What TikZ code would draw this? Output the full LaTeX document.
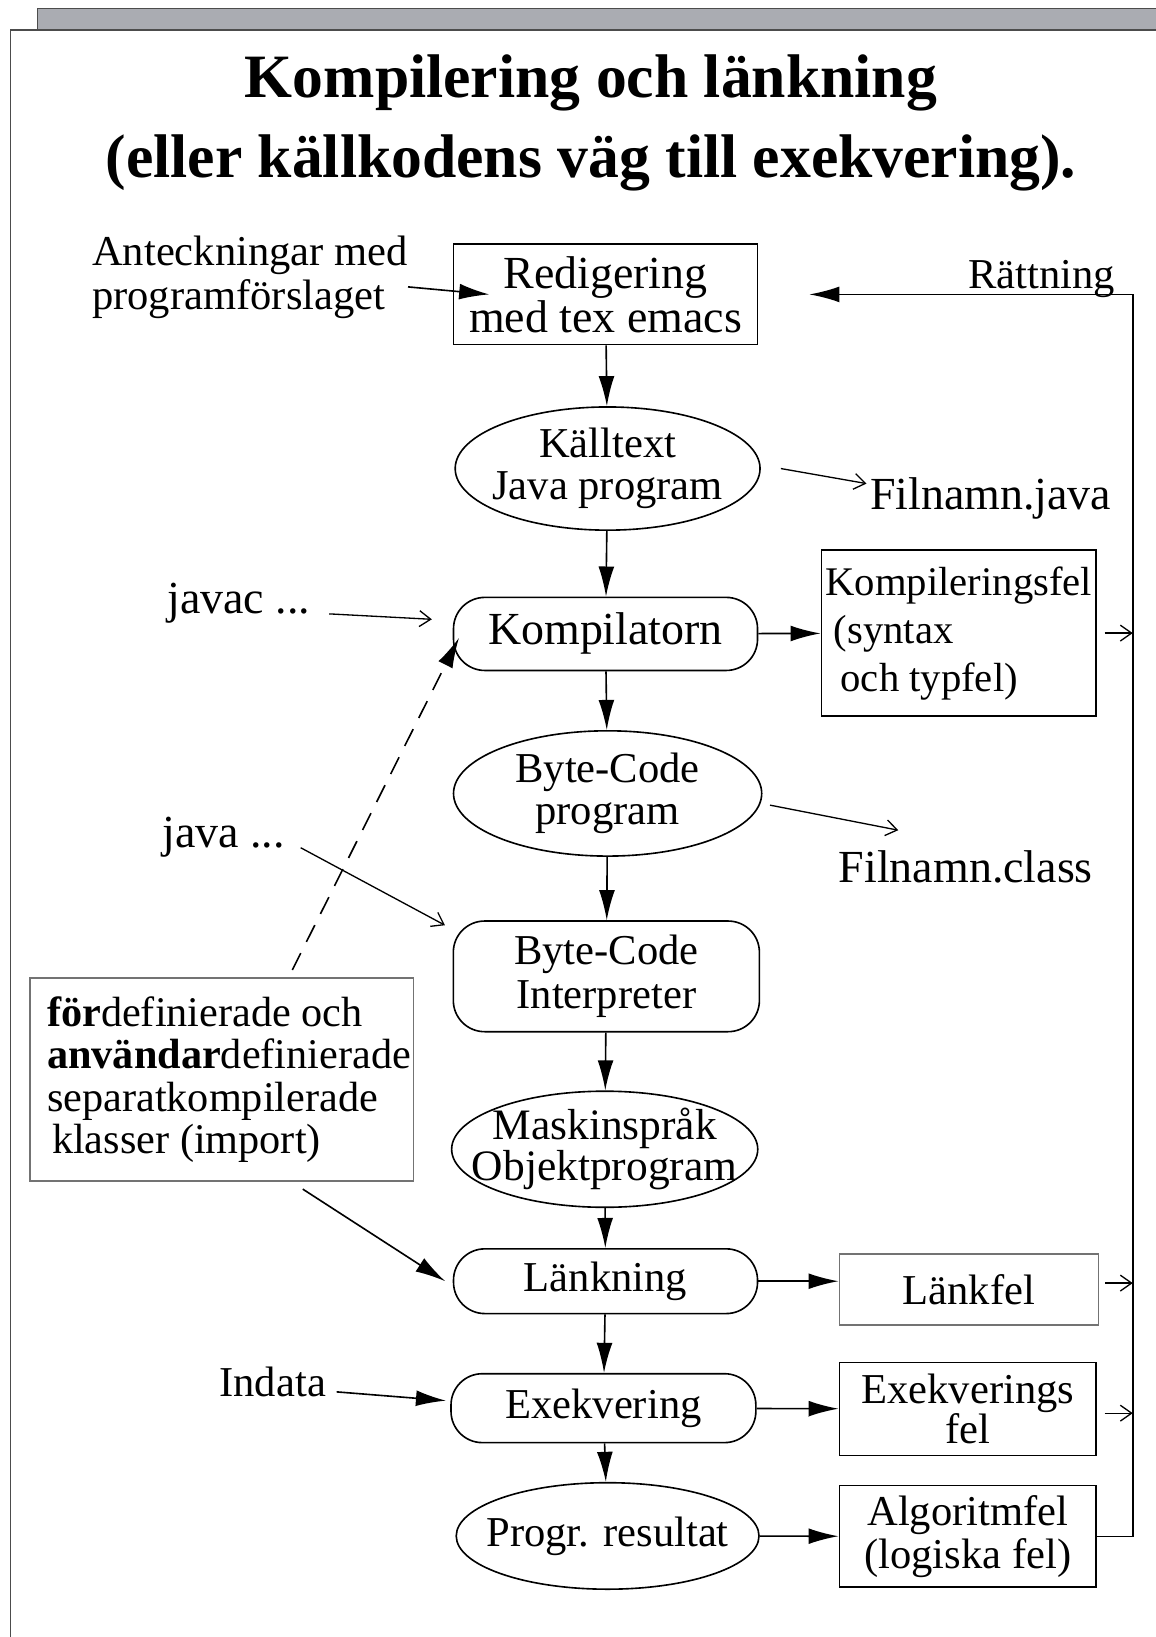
\documentclass[tikz,border=0pt]{standalone}
\usepackage{fontspec}
\setmainfont{Liberation Serif}
\usepackage{tikz}
\usetikzlibrary{arrows.meta, shapes.geometric}
\newcommand\fsize[2]{\fontsize{#1}{#2}\selectfont}
\definecolor{bargray}{RGB}{170,172,178}
\definecolor{boxgray}{RGB}{115,115,115}
\tikzset{
  editbox/.style={
    rectangle,
    draw=black,
    line width=1.1pt,
    align=center,
    minimum width=7.28cm,
    minimum height=2.4cm,
    font=\fsize{31.3}{30}
  },
  srcoval/.style={
    ellipse,
    draw=black,
    line width=1.1pt,
    align=center,
    inner xsep=-1.2cm,
    inner ysep=-0.4cm,
    minimum width=7.3cm,
    font=\fsize{29}{28.5}
  },
  stage/.style={
    rectangle,
    draw=black,
    line width=1.1pt,
    rounded corners=0.75cm,
    align=center,
    minimum width=7.28cm,
    font=\fsize{29}{30.5}
  },
  errbox/.style={
    rectangle,
    draw=black,
    line width=1.1pt,
    align=center,
    font=\fsize{29}{29}
  },
  remark/.style={
    inner sep=0pt,
    align=left,
    font=\fsize{29}{30}
  },
  arrow/.style={draw,line width=1.1pt,-{Latex[length=0.72cm,width=0.38cm]}},
  thinarrow/.style={draw,line width=0.9pt,-{Straight Barb[length=0.27cm,width=0.38cm]}}
}
\begin{document}
\begin{tikzpicture}[every edge/.style={arrow}]
  \useasboundingbox (0,0) rectangle (27.675,-39.2);
  % sheet frame
  \draw[line width=1pt, draw=black!70, fill=bargray] (0.9,-0.72) -- (0.9,-0.2) -- (27.8,-0.2) -- (27.8,-0.72) -- cycle;
  \draw[line width=1pt, draw=black!70] (0.25,-39.4) -- (0.25,-0.72) -- (27.8,-0.72);

  \node (title) [anchor=base, font=\bfseries\fsize{42}{50}] at (14.15,-2.33) {Kompilering och länkning};
  \node (subtitle) [anchor=base, font=\bfseries\fsize{42}{50}] at (14.15,-4.25) {(eller källkodens väg till exekvering).};

  % main column
  \node (redig) [editbox] at (14.5,-7.05) {Redigering\\med tex emacs};
  \node (kall) [srcoval, minimum height=2.95cm] at (14.55,-11.22) {Källtext\\Java program};
  \node (komp) [stage, minimum height=1.75cm, font=\fsize{31.3}{30}] at (14.5,-15.18) {Kompilatorn};
  \node (bcprog) [srcoval, minimum width=7.38cm, minimum height=3cm] at (14.55,-19.0) {Byte-Code\\program};
  \node (interp) [stage, minimum width=7.33cm, minimum height=2.65cm] at (14.52,-23.38) {Byte-Code\\Interpreter};
  \node (maskin) [srcoval, minimum width=7.33cm, minimum height=2.78cm, font=\fsize{29.6}{25.6}] at (14.48,-27.52) {Maskinspråk\\Objektprogram};
  \node (lank) [stage, minimum height=1.55cm] at (14.5,-30.68) {Länkning};
  \node (exek) [stage, minimum width=7.3cm, minimum height=1.65cm] at (14.45,-33.72) {Exekvering};
  \node (result) [srcoval, minimum width=7.25cm, minimum height=2.55cm] at (14.55,-36.78) {Progr. resultat};

  % error boxes
  \node (kfel) [errbox, align=left, minimum width=6.58cm, minimum height=3.98cm, inner xsep=0.1cm, font=\fsize{27.7}{32.7}] at (22.96,-15.16) {Kompileringsfel\\\hspace{0.2cm}(syntax\\\hspace{0.36cm}och typfel)};
  \node (lfel) [errbox, draw=boxgray, minimum width=6.2cm, minimum height=1.7cm] at (23.2,-30.875) {Länkfel};
  \node (efel) [errbox, minimum width=6.15cm, minimum height=2.23cm, font=\fsize{29}{26.3}] at (23.175,-33.74) {Exekverings\\fel};
  \node (afel) [errbox, minimum width=6.15cm, minimum height=2.43cm] at (23.175,-36.79) {Algoritmfel\\(logiska fel)};
  \node (klasser) [errbox, draw=boxgray, align=left, inner xsep=0.05cm, minimum width=9.18cm, minimum height=4.85cm, font=\fsize{28.8}{29}] at (5.31,-25.85) {\hspace*{0.35cm}\textbf{för}definierade och\\\hspace*{0.35cm}\textbf{användar}definierade\\\hspace*{0.35cm}separatkompilerade\\\hspace*{0.47cm}klasser (import)};

  % side notes
  \node (antek) [remark, anchor=west] at (2.2,-6.65) {Anteckningar med\\programförslaget};
  \node (rattn) [remark, anchor=base east] at (26.7,-6.9) {Rättning};
  \node (fjava) [remark, anchor=base west, font=\fsize{31.3}{30}] at (20.83,-12.2) {Filnamn.java};
  \node (fclass) [remark, anchor=base west, font=\fsize{31.3}{30}] at (20.08,-21.13) {Filnamn.class};
  \node (javac) [remark, anchor=base west, font=\fsize{31.3}{30}] at (4.0,-14.7) {javac ...};
  \node (java) [remark, anchor=base west, font=\fsize{31.3}{30}] at (3.88,-20.3) {java ...};
  \node (indata) [remark, anchor=base west] at (5.25,-33.43) {Indata};
  \coordinate (rail) at (27.125,0);

  \path
  (redig) edge (kall)
  (kall) edge (komp)
  (komp) edge (bcprog)
  (bcprog) edge (interp)
  (interp) edge (maskin)
  (maskin) edge (lank)
  (lank) edge (exek)
  (exek) edge (result)
  (komp) edge (kfel)
  (lank.east) edge (lank.east -| lfel.west)
  (exek) edge (efel)
  (result) edge (afel)
  ;

  \draw[arrow] ([yshift=-0.22cm]antek.east) -- ([xshift=0.875cm]redig.west);
  \draw[arrow] (afel.east) -- (afel.east -| rail) |- ([xshift=1.22cm]redig.east);
  \draw[thinarrow] ([xshift=0.18cm]kfel.east) -- (kfel.east -| rail);
  \draw[thinarrow] ([xshift=0.15cm,yshift=0.15cm]lfel.east) -- ([yshift=0.15cm]lfel.east -| rail);
  \draw[thinarrow] ([xshift=0.18cm,yshift=-0.1cm]efel.east) -- ([yshift=-0.1cm]efel.east -| rail);

  \draw[thinarrow] ([xshift=0.45cm]javac.base east) -- ([xshift=-0.5cm,yshift=0.35cm]komp.west);
  \draw[thinarrow] ([xshift=0.375cm]java.base east) -- ([xshift=-0.18cm,yshift=-0.12cm]interp.north west);
  \draw[thinarrow] ([xshift=0.48cm]kall.east) -- ([xshift=-0.08cm,yshift=0.62cm]fjava.base west);
  \draw[thinarrow] ([xshift=0.18cm,yshift=-0.28cm]bcprog.east) -- ([xshift=1.43cm,yshift=1.25cm]fclass.base west);
  \draw[arrow] ([xshift=0.25cm,yshift=0.1cm]indata.base east) -- ([xshift=-0.1cm,yshift=0.18cm]exek.west);
  \draw[arrow] ([xshift=1.94cm,yshift=-0.18cm]klasser.south) -- ([xshift=-0.18cm]lank.west);
  \draw[arrow, dash pattern=on 0.45cm off 0.3cm] ([xshift=1.69cm,yshift=0.18cm]klasser.north) -- ([xshift=0.15cm,yshift=0.8cm]komp.south west);
\end{tikzpicture}
\end{document}
